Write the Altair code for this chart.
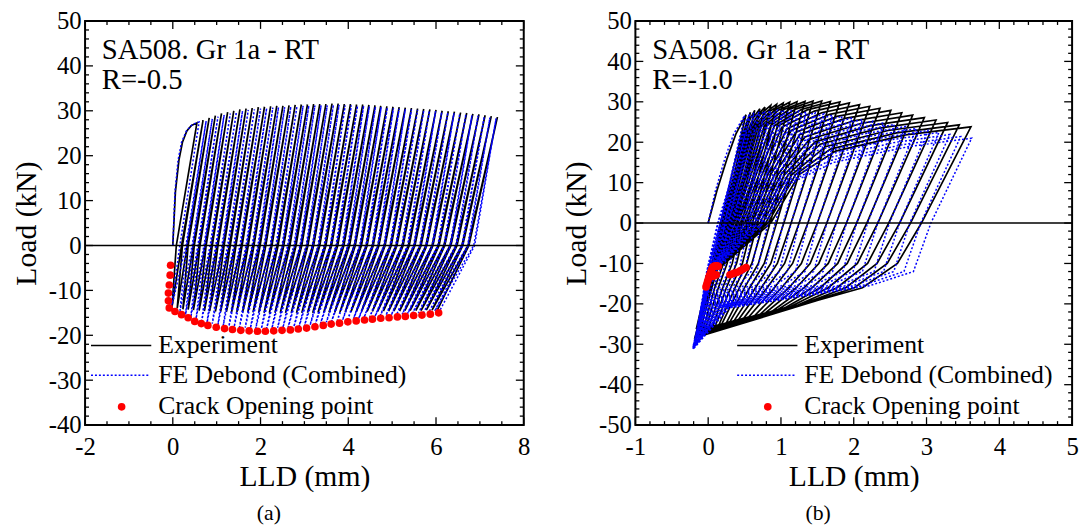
import altair as alt
import pandas as pd

FONT = "Times New Roman, Liberation Serif, DejaVu Serif, serif"

# ======================= Panel (a): R = -0.5 =======================
a_exp_init_x = [0.00, 0.06, 0.14, 0.22, 0.32, 0.42]
a_exp_init_y = [0.0, 12.0, 19.0, 23.0, 25.5, 26.7]
a_exp_peak_x = [0.55, 0.69, 0.83, 0.97, 1.11, 1.25, 1.39, 1.53, 1.67, 1.81, 1.95, 2.09, 2.23, 2.37, 2.51,
                2.65, 2.79, 2.93, 3.07, 3.21, 3.35, 3.49, 3.63, 3.77, 3.91, 4.05, 4.19, 4.33, 4.47, 4.61,
                4.74, 4.88, 5.02, 5.16, 5.30, 5.44, 5.58, 5.72, 5.86, 6.00, 6.14, 6.28, 6.42, 6.56, 6.70,
                6.84, 6.98, 7.12, 7.26, 7.40]
a_exp_peak_y = [27.3, 27.9, 28.4, 28.9, 29.4, 29.7, 30.0, 30.3, 30.5, 30.6, 30.8, 30.9, 31.0, 31.1, 31.1,
                31.2, 31.3, 31.4, 31.4, 31.5, 31.5, 31.5, 31.6, 31.6, 31.5, 31.5, 31.4, 31.4, 31.3, 31.2,
                31.1, 31.0, 30.9, 30.8, 30.7, 30.6, 30.5, 30.4, 30.3, 30.2, 30.0, 29.9, 29.8, 29.6, 29.5,
                29.3, 29.2, 29.0, 28.8, 28.6]
a_exp_unload0_x = [0.08, 0.22, 0.35, 0.49, 0.62, 0.76, 0.90, 1.03, 1.17, 1.31, 1.44, 1.58, 1.72, 1.85, 1.99,
                   2.12, 2.26, 2.40, 2.53, 2.67, 2.81, 2.94, 3.08, 3.21, 3.35, 3.49, 3.62, 3.76, 3.90, 4.03,
                   4.16, 4.30, 4.43, 4.57, 4.70, 4.84, 4.98, 5.11, 5.25, 5.39, 5.52, 5.66, 5.79, 5.93, 6.07,
                   6.20, 6.34, 6.48, 6.61, 6.75]
a_exp_trough_x = [-0.02, 0.10, 0.23, 0.35, 0.47, 0.60, 0.72, 0.84, 0.97, 1.09, 1.22, 1.34, 1.46, 1.59, 1.71,
                  1.83, 1.96, 2.08, 2.20, 2.33, 2.45, 2.57, 2.70, 2.82, 2.94, 3.07, 3.19, 3.31, 3.44, 3.56,
                  3.69, 3.81, 3.93, 4.06, 4.18, 4.30, 4.43, 4.55, 4.67, 4.80, 4.92, 5.04, 5.17, 5.29, 5.41,
                  5.54, 5.66, 5.78, 5.91, 6.03]
a_exp_trough_y = [-13.8, -14.0, -14.2, -14.3, -14.4, -14.5, -14.6, -14.6, -14.7, -14.7, -14.8, -14.8, -14.8,
                  -14.9, -14.9, -14.9, -14.9, -15.0, -15.0, -15.0, -15.0, -15.0, -15.0, -15.0, -15.0, -15.0,
                  -15.0, -14.9, -14.9, -14.9, -14.9, -14.8, -14.8, -14.8, -14.8, -14.7, -14.7, -14.7, -14.7,
                  -14.6, -14.6, -14.6, -14.6, -14.5, -14.5, -14.5, -14.5, -14.4, -14.4, -14.4]
a_exp_reload0_x = [0.20, 0.33, 0.47, 0.60, 0.74, 0.88, 1.01, 1.15, 1.29, 1.42, 1.56, 1.70, 1.83, 1.97, 2.10,
                   2.24, 2.38, 2.51, 2.65, 2.79, 2.92, 3.06, 3.19, 3.33, 3.47, 3.60, 3.74, 3.88, 4.01, 4.14,
                   4.28, 4.41, 4.55, 4.68, 4.82, 4.96, 5.09, 5.23, 5.37, 5.50, 5.64, 5.77, 5.91, 6.05, 6.18,
                   6.32, 6.46, 6.59, 6.73]

a_fe_init_x = [0.00, 0.05, 0.12, 0.20, 0.31, 0.45]
a_fe_init_y = [0.0, 12.0, 19.0, 23.0, 25.5, 27.0]
a_fe_peak_x = [0.60, 0.76, 0.90, 1.03, 1.17, 1.31, 1.45, 1.59, 1.72, 1.86, 2.00, 2.14, 2.28, 2.41, 2.55,
               2.69, 2.83, 2.97, 3.10, 3.24, 3.38, 3.52, 3.66, 3.79, 3.93, 4.07, 4.21, 4.35, 4.48, 4.62,
               4.75, 4.89, 5.03, 5.16, 5.30, 5.44, 5.58, 5.72, 5.85, 5.99, 6.13, 6.27, 6.41, 6.54, 6.68,
               6.82, 6.96, 7.10, 7.23, 7.37]
a_fe_peak_y = [27.5, 27.7, 28.2, 28.7, 29.1, 29.4, 29.7, 30.0, 30.2, 30.3, 30.5, 30.6, 30.7, 30.8, 30.8,
               30.9, 31.0, 31.1, 31.1, 31.2, 31.2, 31.2, 31.3, 31.3, 31.2, 31.2, 31.1, 31.1, 31.0, 30.9,
               30.8, 30.7, 30.6, 30.5, 30.4, 30.3, 30.2, 30.1, 30.0, 29.9, 29.7, 29.6, 29.5, 29.3, 29.2,
               29.0, 28.9, 28.7, 28.5, 28.3]
a_fe_unload0_x = [0.16, 0.32, 0.46, 0.59, 0.73, 0.87, 1.00, 1.14, 1.27, 1.41, 1.55, 1.69, 1.83, 1.96, 2.10,
                  2.24, 2.37, 2.51, 2.64, 2.78, 2.92, 3.06, 3.20, 3.33, 3.47, 3.61, 3.74, 3.88, 4.01, 4.15,
                  4.28, 4.42, 4.56, 4.69, 4.83, 4.97, 5.10, 5.24, 5.37, 5.51, 5.65, 5.79, 5.93, 6.06, 6.20,
                  6.34, 6.47, 6.61, 6.74, 6.88]
a_fe_trough_x = [-0.04, 0.16, 0.29, 0.41, 0.53, 0.66, 0.78, 0.90, 1.03, 1.15, 1.28, 1.40, 1.52, 1.65, 1.77,
                 1.89, 2.02, 2.14, 2.26, 2.39, 2.51, 2.63, 2.76, 2.88, 3.00, 3.13, 3.25, 3.37, 3.50, 3.62,
                 3.75, 3.87, 3.99, 4.12, 4.24, 4.36, 4.49, 4.61, 4.73, 4.86, 4.98, 5.10, 5.23, 5.35, 5.47,
                 5.60, 5.72, 5.84, 5.97, 6.09]
a_fe_trough_y = [-14.3, -14.9, -15.4, -16.0, -16.3, -16.8, -17.2, -17.4, -17.6, -17.8, -18.0, -18.1, -18.2,
                 -18.3, -18.4, -18.5, -18.5, -18.5, -18.4, -18.3, -18.3, -18.2, -18.1, -18.0, -17.9, -17.7,
                 -17.5, -17.3, -17.1, -16.9, -16.7, -16.6, -16.4, -16.3, -16.2, -16.0, -15.9, -15.8, -15.6,
                 -15.5, -15.5, -15.4, -15.3, -15.2, -15.0, -15.0, -14.9, -14.8, -14.6, -14.4]
a_fe_reload0_x = [0.30, 0.44, 0.57, 0.71, 0.85, 0.98, 1.12, 1.25, 1.39, 1.53, 1.67, 1.81, 1.94, 2.08, 2.22,
                  2.35, 2.49, 2.62, 2.76, 2.90, 3.04, 3.18, 3.31, 3.45, 3.59, 3.72, 3.86, 3.99, 4.13, 4.26,
                  4.40, 4.54, 4.67, 4.81, 4.95, 5.08, 5.22, 5.35, 5.49, 5.63, 5.77, 5.91, 6.04, 6.18, 6.32,
                  6.45, 6.59, 6.72, 6.86]

a_cop_x = [-0.05, -0.06, -0.08, -0.10, -0.10, -0.08, 0.05, 0.20, 0.35, 0.50, 0.65, 0.80, 0.99, 1.18, 1.36,
           1.55, 1.74, 1.93, 2.11, 2.30, 2.49, 2.68, 2.86, 3.05, 3.24, 3.43, 3.61, 3.80, 3.99, 4.18, 4.37,
           4.55, 4.74, 4.93, 5.12, 5.30, 5.49, 5.68, 5.87, 6.06]
a_cop_y = [-4.4, -6.6, -8.8, -10.6, -12.3, -13.9, -14.7, -15.4, -16.1, -16.9, -17.4, -17.8, -18.2, -18.5,
           -18.7, -18.9, -19.0, -19.1, -19.1, -19.0, -18.9, -18.8, -18.6, -18.4, -18.1, -17.8, -17.5, -17.3,
           -17.0, -16.8, -16.6, -16.4, -16.2, -16.1, -15.9, -15.8, -15.6, -15.5, -15.3, -15.0]

# ======================= Panel (b): R = -1.0 =======================
b_exp_init_x = [0.00, 0.12, 0.26, 0.38]
b_exp_init_y = [0.0, 8.0, 16.0, 22.0]
b_exp_peak_x = [0.52, 0.58, 0.64, 0.71, 0.78, 0.86, 0.94, 1.03, 1.12, 1.22, 1.33, 1.44, 1.56, 1.68, 1.81,
                1.94, 2.08, 2.22, 2.36, 2.51, 2.66, 2.81, 2.97, 3.13, 3.29, 3.45, 3.61]
b_exp_peak_y = [26.8, 27.4, 27.9, 28.3, 28.7, 29.1, 29.4, 29.7, 29.9, 30.0, 30.1, 30.2, 30.2, 30.1, 30.0,
                29.7, 29.3, 28.9, 28.4, 27.9, 27.3, 26.7, 26.1, 25.5, 24.9, 24.3, 23.8]
b_exp_unload0_x = [0.17, 0.22, 0.27, 0.33, 0.39, 0.46, 0.53, 0.61, 0.68, 0.76, 0.85, 0.94, 1.04, 1.14, 1.25,
                   1.37, 1.50, 1.63, 1.76, 1.90, 2.04, 2.18, 2.33, 2.48, 2.63, 2.78, 2.93]
b_exp_unload_m10_x = [0.06, 0.11, 0.15, 0.21, 0.26, 0.33, 0.39, 0.47, 0.53, 0.60, 0.69, 0.77, 0.86, 0.95,
                      1.05, 1.16, 1.28, 1.40, 1.52, 1.65, 1.78, 1.91, 2.05, 2.19, 2.32, 2.46, 2.60]
b_exp_unload_m16_x = [-0.03, 0.01, 0.05, 0.09, 0.14, 0.20, 0.25, 0.31, 0.37, 0.43, 0.50, 0.57, 0.65, 0.73,
                      0.81, 0.91, 1.01, 1.11, 1.21, 1.32, 1.43, 1.54, 1.65, 1.77, 1.89, 2.01, 2.12]
b_exp_fan_x = [-0.16, -0.13, -0.10, -0.06, -0.03, 0.01, 0.06, 0.10, 0.15, 0.19, 0.25, 0.30, 0.36, 0.42,
               0.49, 0.56, 0.64, 0.72, 0.79, 0.88, 0.96, 1.05, 1.14, 1.23, 1.32, 1.41, 1.51]
b_exp_fan_y = [-26.0, -26.0, -25.9, -25.8, -25.7, -25.6, -25.5, -25.3, -25.1, -24.9, -24.7, -24.4, -24.1,
               -23.8, -23.5, -23.2, -22.9, -22.5, -22.2, -21.8, -21.4, -21.0, -20.6, -20.3, -19.9, -19.5,
               -19.1]
b_exp_trough_x = [-0.12, -0.13, -0.13, -0.14, -0.14, -0.15, -0.15, -0.15, -0.16, -0.16, -0.16, -0.16, -0.17,
                  -0.17, -0.17, -0.17, -0.17, -0.18, -0.18, -0.18, -0.18, -0.18, -0.18, -0.18, -0.18, -0.18,
                  -0.18]
b_exp_trough_y = [-26.0, -26.3, -26.6, -26.8, -27.0, -27.2, -27.3, -27.4, -27.5, -27.6, -27.7, -27.8, -27.9,
                  -28.0, -28.0, -28.1, -28.1, -28.2, -28.2, -28.2, -28.3, -28.3, -28.3, -28.3, -28.4, -28.4,
                  -28.4]
b_exp_open_x = [0.02, 0.02, 0.02, 0.03, 0.03, 0.03, 0.03, 0.04, 0.04, 0.04, 0.04, 0.05, 0.05, 0.05, 0.06,
                0.06, 0.06, 0.07, 0.07, 0.08, 0.08, 0.08, 0.09, 0.09, 0.10, 0.10]
b_exp_reload0_x = [0.18, 0.20, 0.21, 0.23, 0.24, 0.26, 0.28, 0.30, 0.32, 0.34, 0.36, 0.39, 0.41, 0.44, 0.47,
                   0.50, 0.54, 0.57, 0.60, 0.64, 0.67, 0.71, 0.75, 0.79, 0.82, 0.86]
b_exp_reload12_x = [0.36, 0.37, 0.39, 0.41, 0.44, 0.46, 0.49, 0.51, 0.53, 0.56, 0.59, 0.63, 0.66, 0.70, 0.74,
                    0.78, 0.82, 0.86, 0.91, 0.96, 1.00, 1.05, 1.10, 1.15, 1.20, 1.25]
b_exp_knee_x = [0.47, 0.50, 0.53, 0.55, 0.59, 0.62, 0.66, 0.69, 0.73, 0.77, 0.81, 0.86, 0.91, 0.96, 1.01,
                1.08, 1.14, 1.20, 1.26, 1.33, 1.39, 1.47, 1.54, 1.61, 1.68, 1.75]
b_exp_knee_y = [21.4, 21.9, 22.3, 22.7, 23.1, 23.4, 23.7, 23.9, 24.0, 24.1, 24.2, 24.2, 24.1, 24.0, 23.7,
                23.3, 22.9, 22.4, 21.9, 21.3, 20.7, 20.1, 19.5, 18.9, 18.3, 17.8]
b_exp_top_x = [0.54, 0.58, 0.63, 0.68, 0.73, 0.79, 0.85, 0.91, 0.97, 1.04, 1.12, 1.20, 1.28, 1.36, 1.46,
               1.56, 1.67, 1.77, 1.88, 2.00, 2.11, 2.23, 2.35, 2.47, 2.59, 2.71]
b_exp_top_y = [25.4, 25.9, 26.3, 26.7, 27.1, 27.4, 27.7, 27.9, 28.0, 28.1, 28.2, 28.2, 28.1, 28.0, 27.7,
               27.3, 26.9, 26.4, 25.9, 25.3, 24.7, 24.1, 23.5, 22.9, 22.3, 21.8]

b_fe_init_x = [0.00, 0.10, 0.23, 0.35]
b_fe_init_y = [0.0, 8.0, 16.0, 22.0]
b_fe_peak_x = [0.50, 0.57, 0.63, 0.70, 0.78, 0.86, 0.95, 1.04, 1.14, 1.24, 1.35, 1.47, 1.59, 1.71, 1.84,
               1.98, 2.12, 2.26, 2.41, 2.56, 2.71, 2.86, 3.02, 3.17, 3.32, 3.47, 3.62]
b_fe_peak_y = [26.6, 27.0, 27.3, 27.5, 27.7, 27.8, 27.9, 27.9, 27.8, 27.7, 27.5, 27.3, 27.0, 26.7, 26.4,
               26.0, 25.6, 25.2, 24.8, 24.4, 23.9, 23.4, 22.9, 22.4, 21.9, 21.4, 21.0]
b_fe_unload0_x = [0.17, 0.23, 0.28, 0.34, 0.41, 0.48, 0.56, 0.64, 0.73, 0.82, 0.92, 1.03, 1.14, 1.25, 1.37,
                  1.50, 1.63, 1.76, 1.90, 2.04, 2.19, 2.33, 2.49, 2.63, 2.77, 2.92, 3.06]
b_fe_unload_m12_x = [0.05, 0.11, 0.16, 0.21, 0.28, 0.35, 0.42, 0.50, 0.59, 0.67, 0.77, 0.88, 0.98, 1.09,
                     1.20, 1.33, 1.45, 1.58, 1.71, 1.85, 1.99, 2.12, 2.28, 2.41, 2.55, 2.69, 2.82]
b_fe_unload_m155_x = [-0.01, 0.04, 0.08, 0.12, 0.18, 0.23, 0.29, 0.35, 0.42, 0.49, 0.57, 0.65, 0.74, 0.82,
                      0.91, 1.01, 1.11, 1.21, 1.32, 1.43, 1.55, 1.65, 1.78, 1.88, 1.99, 2.11, 2.22]
b_fe_unload_low_x = [-0.06, -0.05, -0.05, -0.04, -0.03, -0.02, -0.01, 0.00, 0.01, 0.02, 0.03, 0.04, 0.06,
                     0.07, 0.08, 0.10, 0.12, 0.13, 0.15, 0.16, 0.18, 0.20, 0.22, 0.24, 0.25, 0.27, 0.29]
b_fe_unload_low_y = [-19.0, -19.1, -19.2, -19.3, -19.4, -19.5, -19.6, -19.7, -19.8, -19.9, -20.0, -20.1,
                     -20.2, -20.3, -20.4, -20.4, -20.5, -20.6, -20.6, -20.7, -20.7, -20.8, -20.8, -20.9,
                     -20.9, -21.0, -21.0]
b_fe_trough_x = [-0.15, -0.16, -0.16, -0.17, -0.17, -0.18, -0.18, -0.18, -0.19, -0.19, -0.19, -0.19, -0.20,
                 -0.20, -0.20, -0.20, -0.20, -0.21, -0.21, -0.21, -0.21, -0.21, -0.21, -0.21, -0.21, -0.21,
                 -0.21]
b_fe_trough_y = [-27.0, -27.5, -28.0, -28.4, -28.7, -29.0, -29.2, -29.4, -29.6, -29.8, -30.0, -30.1, -30.2,
                 -30.3, -30.4, -30.5, -30.6, -30.7, -30.8, -30.9, -31.0, -31.0, -31.1, -31.1, -31.2, -31.2,
                 -31.3]
b_fe_open_x = [-0.02, -0.02, -0.01, -0.01, -0.01, -0.01, 0.00, 0.00, 0.00, 0.00, 0.01, 0.01, 0.01, 0.02,
               0.02, 0.02, 0.03, 0.03, 0.04, 0.04, 0.04, 0.05, 0.05, 0.06, 0.06, 0.07]
b_fe_reload0_x = [0.13, 0.14, 0.16, 0.17, 0.19, 0.21, 0.22, 0.24, 0.26, 0.29, 0.31, 0.33, 0.36, 0.38, 0.41,
                  0.44, 0.47, 0.50, 0.53, 0.56, 0.60, 0.63, 0.66, 0.69, 0.73, 0.76]
b_fe_reload10_x = [0.30, 0.31, 0.33, 0.35, 0.37, 0.40, 0.42, 0.45, 0.48, 0.51, 0.54, 0.57, 0.60, 0.64, 0.68,
                   0.72, 0.76, 0.80, 0.84, 0.89, 0.93, 0.98, 1.02, 1.06, 1.11, 1.15]
b_fe_knee_x = [0.45, 0.47, 0.50, 0.53, 0.56, 0.60, 0.63, 0.67, 0.71, 0.76, 0.81, 0.86, 0.91, 0.96, 1.02,
               1.08, 1.14, 1.20, 1.26, 1.33, 1.39, 1.46, 1.53, 1.59, 1.66, 1.72]
b_fe_knee_y = [21.0, 21.3, 21.5, 21.7, 21.8, 21.9, 21.9, 21.8, 21.7, 21.5, 21.3, 21.0, 20.7, 20.4, 20.0,
               19.6, 19.2, 18.8, 18.4, 17.9, 17.4, 16.9, 16.4, 15.9, 15.4, 15.0]
b_fe_top_x = [0.52, 0.56, 0.61, 0.66, 0.72, 0.78, 0.85, 0.92, 0.99, 1.07, 1.16, 1.25, 1.33, 1.43, 1.53,
              1.64, 1.74, 1.85, 1.97, 2.09, 2.20, 2.33, 2.44, 2.55, 2.67, 2.78]
b_fe_top_y = [25.0, 25.3, 25.5, 25.7, 25.8, 25.9, 25.9, 25.8, 25.7, 25.5, 25.3, 25.0, 24.7, 24.4, 24.0,
              23.6, 23.2, 22.8, 22.4, 21.9, 21.4, 20.9, 20.4, 19.9, 19.4, 19.0]

b_cop_x = [-0.03, -0.02, -0.01, 0.00, 0.01, 0.02, 0.03, 0.04, 0.05, 0.06, 0.08, 0.10, 0.12, 0.14, 0.06,
           0.09, 0.11, 0.30, 0.33, 0.36, 0.40, 0.44, 0.48, 0.52]
b_cop_y = [-15.8, -15.2, -14.6, -14.0, -13.4, -12.9, -12.4, -11.9, -11.4, -11.0, -10.7, -10.6, -10.6, -10.7,
           -13.2, -13.0, -12.8, -12.8, -12.6, -12.4, -12.2, -11.8, -11.4, -11.0]

# axis tick values
a_x_major = [-2, 0, 2, 4, 6, 8]
a_y_major = [-40, -30, -20, -10, 0, 10, 20, 30, 40, 50]
b_x_major = [-1, 0, 1, 2, 3, 4, 5]
b_y_major = [-50, -40, -30, -20, -10, 0, 10, 20, 30, 40, 50]
a_x_minor = [v / 2 for v in range(-4, 17) if v % 4 != 0]
a_y_minor = [v for v in range(-40, 51, 2) if v % 10 != 0]
b_x_minor = [v / 5 for v in range(-5, 26) if v % 5 != 0]
b_y_minor = [v for v in range(-50, 51, 2) if v % 10 != 0]

legend_labels = ["Experiment", "FE Debond (Combined)", "Crack Opening point"]


def build_path(init_x, init_y, peak_x, peak_y, unload, reload):
    xs, ys = list(init_x), list(init_y)
    n = len(peak_x)
    for i in range(n):
        xs.append(peak_x[i])
        ys.append(peak_y[i])
        for px, py in unload:
            xs.append(px[i])
            ys.append(py[i] if isinstance(py, list) else py)
        if i < n - 1:
            for px, py in reload:
                xs.append(px[i])
                ys.append(py[i] if isinstance(py, list) else py)
    return pd.DataFrame({"x": xs, "y": ys, "k": list(range(len(xs)))})


a_exp = build_path(a_exp_init_x, a_exp_init_y, a_exp_peak_x, a_exp_peak_y,
                   [(a_exp_unload0_x, 0.0), (a_exp_trough_x, a_exp_trough_y)],
                   [(a_exp_reload0_x, 0.0)])
a_fe = build_path(a_fe_init_x, a_fe_init_y, a_fe_peak_x, a_fe_peak_y,
                  [(a_fe_unload0_x, 0.0), (a_fe_trough_x, a_fe_trough_y)],
                  [(a_fe_reload0_x, 0.0)])
b_exp = build_path(b_exp_init_x, b_exp_init_y, b_exp_peak_x, b_exp_peak_y,
                   [(b_exp_unload0_x, 0.0), (b_exp_unload_m10_x, -10.0), (b_exp_unload_m16_x, -16.0),
                    (b_exp_fan_x, b_exp_fan_y), (b_exp_trough_x, b_exp_trough_y)],
                   [(b_exp_open_x, -12.0), (b_exp_reload0_x, 0.0), (b_exp_reload12_x, 12.0),
                    (b_exp_knee_x, b_exp_knee_y), (b_exp_top_x, b_exp_top_y)])
b_fe = build_path(b_fe_init_x, b_fe_init_y, b_fe_peak_x, b_fe_peak_y,
                  [(b_fe_unload0_x, 0.0), (b_fe_unload_m12_x, -12.0), (b_fe_unload_m155_x, -15.5),
                   (b_fe_unload_low_x, b_fe_unload_low_y), (b_fe_trough_x, b_fe_trough_y)],
                  [(b_fe_open_x, -12.0), (b_fe_reload0_x, 0.0), (b_fe_reload10_x, 10.0),
                   (b_fe_knee_x, b_fe_knee_y), (b_fe_top_x, b_fe_top_y)])

ONE = pd.DataFrame({"a": [0]})


def panel(exp_df, fe_df, cop_x, cop_y, xdom, ydom, W, H, xmaj, xmin, ymaj, ymin,
          note2, caption, lx):
    xs = alt.Scale(domain=xdom, nice=False, zero=False)
    ys = alt.Scale(domain=ydom, nice=False, zero=False)
    xaxis = dict(values=xmaj, title="LLD (mm)", labelExpr="'' + datum.value", ticks=False, tickSize=0,
                 domain=False, grid=False, labelPadding=10, titlePadding=2, labelFlush=False,
                 labelOverlap=False)
    yaxis = dict(values=ymaj, title="Load (kN)", labelExpr="'' + datum.value", ticks=False, tickSize=0,
                 domain=False, grid=False, labelPadding=4, titlePadding=7, labelFlush=False,
                 labelOverlap=False)

    def X(f):
        return alt.X(f, scale=xs, axis=alt.Axis(**xaxis))

    def Y(f):
        return alt.Y(f, scale=ys, axis=alt.Axis(**yaxis))

    layers = []
    layers.append(alt.Chart(exp_df).mark_line(color="black", strokeWidth=1.7, clip=True).encode(
        x=X("x:Q"), y=Y("y:Q"), order=alt.Order("k:Q")))
    layers.append(alt.Chart(fe_df).mark_line(color="#0000ff", strokeWidth=1.5, strokeDash=[2, 2],
                                             clip=True).encode(
        x=X("x:Q"), y=Y("y:Q"), order=alt.Order("k:Q")))
    layers.append(alt.Chart(pd.DataFrame({"y": [0]})).mark_rule(color="black", strokeWidth=1.5).encode(
        y=Y("y:Q")))
    layers.append(alt.Chart(pd.DataFrame({"x": cop_x, "y": cop_y})).mark_circle(
        color="#ff0000", size=60, opacity=1).encode(x=X("x:Q"), y=Y("y:Q")))
    # inward ticks on all four sides
    for vals, L in ((xmaj, 8), (xmin, 4)):
        base = alt.Chart(pd.DataFrame({"x": vals})).mark_rule(color="black", strokeWidth=1.3)
        layers.append(base.encode(x=X("x:Q"), y=alt.value(H), y2=alt.value(H - L)))
        layers.append(base.encode(x=X("x:Q"), y=alt.value(0), y2=alt.value(L)))
    for vals, L in ((ymaj, 8), (ymin, 4)):
        base = alt.Chart(pd.DataFrame({"y": vals})).mark_rule(color="black", strokeWidth=1.3)
        layers.append(base.encode(y=Y("y:Q"), x=alt.value(0), x2=alt.value(L)))
        layers.append(base.encode(y=Y("y:Q"), x=alt.value(W), x2=alt.value(W - L)))
    # annotation
    for txt, yy in (("SA508. Gr 1a - RT", 38.5), (note2, 68.5)):
        layers.append(alt.Chart(ONE).mark_text(text=txt, font=FONT, fontSize=29, align="left",
                                               baseline="alphabetic", color="black").encode(
            x=alt.value(17), y=alt.value(yy)))
    # legend
    layers.append(alt.Chart(ONE).mark_rule(color="black", strokeWidth=1.5).encode(
        x=alt.value(lx + 6), x2=alt.value(lx + 67), y=alt.value(328.5)))
    layers.append(alt.Chart(ONE).mark_rule(color="#0000ff", strokeWidth=1.6, strokeDash=[2, 2]).encode(
        x=alt.value(lx + 6), x2=alt.value(lx + 66), y=alt.value(358.5)))
    layers.append(alt.Chart(ONE).mark_circle(color="#ff0000", size=60, opacity=1).encode(
        x=alt.value(lx + 37), y=alt.value(390.5)))
    for txt, yy in zip(legend_labels, (336, 366.5, 398)):
        layers.append(alt.Chart(ONE).mark_text(text=txt, font=FONT, fontSize=26, align="left",
                                               baseline="alphabetic", color="black").encode(
            x=alt.value(lx + 74), y=alt.value(yy)))
    return alt.layer(*layers).properties(
        width=W, height=H,
        title=alt.TitleParams(text=caption, orient="bottom", anchor="middle", frame="group", dx=-36,
                              offset=12, font=FONT, fontSize=22, fontWeight="normal", color="black"))


left = panel(a_exp, a_fe, a_cop_x, a_cop_y, [-2, 8], [-40, 50], 444, 409,
             a_x_major, a_x_minor, a_y_major, a_y_minor, "R=-0.5", "(a)", 0)
right = panel(b_exp, b_fe, b_cop_x, b_cop_y, [-1, 5], [-50, 50], 442, 409,
              b_x_major, b_x_minor, b_y_major, b_y_minor, "R=-1.0", "(b)", 97)

chart = alt.hconcat(left, right, spacing=29).properties(
    padding={"left": 2, "top": -3, "right": 0, "bottom": 0}, background="white"
).configure_view(stroke="black", strokeWidth=2).configure_axis(
    labelFont=FONT, labelFontSize=25, labelColor="black", titleFont=FONT, titleFontSize=30,
    titleFontWeight="normal", titleColor="black")

chart.save("out.html", embed_options={"renderer": "svg", "actions": False})
